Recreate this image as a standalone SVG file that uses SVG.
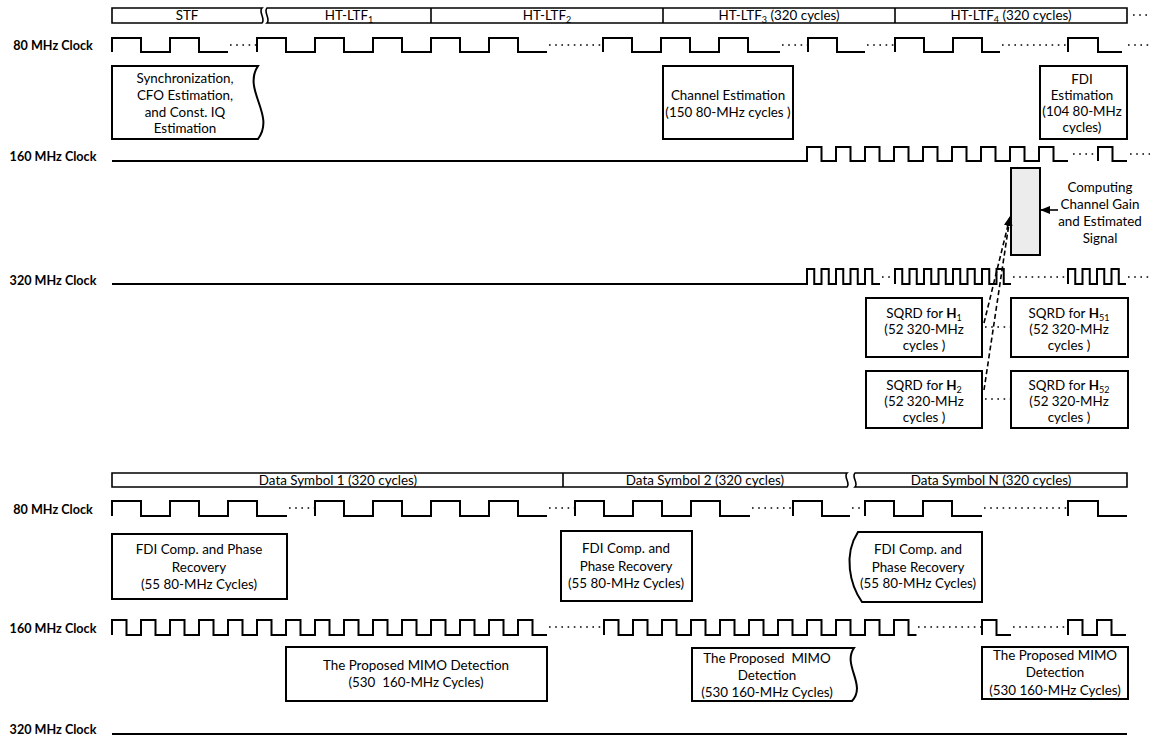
<svg xmlns="http://www.w3.org/2000/svg" width="1150" height="737" viewBox="0 0 1150 737">
<style>
.t{font-family:Lato,"Liberation Sans",sans-serif;font-size:13.4px;text-anchor:middle;fill:#000}
.lbl{font-family:Lato,"Liberation Sans",sans-serif;font-size:12.6px;font-weight:bold;text-anchor:middle;fill:#000}
.clk{fill:none;stroke:#000;stroke-width:2;stroke-linejoin:miter}
.box{fill:#fff;stroke:#000;stroke-width:2}
.bar{fill:#fff;stroke:#000;stroke-width:1.6}
.dots{fill:none;stroke:#000;stroke-width:1.6;stroke-dasharray:1.6 4.6}
.dash{fill:none;stroke:#000;stroke-width:1.6;stroke-dasharray:5 3}
.sub{font-size:9px}
</style>
<defs>
<marker id="ah" markerWidth="10" markerHeight="8" refX="9" refY="4" orient="auto" markerUnits="userSpaceOnUse">
<path d="M0,0 L10,4 L0,8 Z" fill="#000"/>
</marker>
</defs>

<g id="labels">
<text class="lbl" x="53" y="50">80 MHz Clock</text>
<text class="lbl" x="53" y="161">160 MHz Clock</text>
<text class="lbl" x="53" y="285">320 MHz Clock</text>
<text class="lbl" x="53" y="514">80 MHz Clock</text>
<text class="lbl" x="53" y="633">160 MHz Clock</text>
<text class="lbl" x="53" y="734">320 MHz Clock</text>
</g>

<g id="top-bar">
<path class="bar" d="M112,8 H262 C258,12 266,19 262,23 H112 Z"/>
<path class="bar" d="M267,8 H1127 V23 H267 C271,19 263,12 267,8 Z"/>
<line class="bar" x1="431" y1="8" x2="431" y2="23"/>
<line class="bar" x1="663" y1="8" x2="663" y2="23"/>
<line class="bar" x1="895" y1="8" x2="895" y2="23"/>
<text class="t" x="187" y="20">STF</text>
<text class="t" x="349" y="20">HT-LTF<tspan class="sub" dy="3">1</tspan></text>
<text class="t" x="547" y="20">HT-LTF<tspan class="sub" dy="3">2</tspan></text>
<text class="t" x="779" y="20">HT-LTF<tspan class="sub" dy="3">3</tspan><tspan dy="-3"> (320 cycles)</tspan></text>
<text class="t" x="1011" y="20">HT-LTF<tspan class="sub" dy="3">4</tspan><tspan dy="-3"> (320 cycles)</tspan></text>
<line class="dots" x1="1133" y1="15" x2="1150" y2="15"/>
</g>

<g id="clock-80-top">
<path class="clk" d="M112,52 v-14h29v14h29v-14h29v14h29"/>
<path class="clk" d="M257,52 v-14h29v14h29v-14h29v14h29v-14h29v14h29v-14h29v14h29v-14h29v14h29"/>
<path class="clk" d="M603,52 v-14h29v14h29v-14h29v14h29v-14h29v14h29h3"/>
<path class="clk" d="M808,52 v-14h29v14h28"/>
<path class="clk" d="M895,52 v-14h29v14h29v-14h29v14h18"/>
<path class="clk" d="M1068,52 v-14h30v14h24"/>
<path class="dots" d="M230,45 H256 M549,45 H602 M782,45 H807 M867,45 H894 M1002,45 H1067 M1128,45 H1150"/>
</g>

<g id="clock-160-top">
<path class="clk" d="M112,161 H807 v-14h14.5v14h14.5v-14h14.5v14h14.5v-14h14.5v14h14.5v-14h14.5v14h14.5v-14h14.5v14h14.5v-14h14.5v14h14.5v-14h14.5v14h14.5v-14h14.5v14h14.5v-14h14.5v14h14.5"/>
<path class="clk" d="M1098,161 v-14h14.5v14h14.5"/>
<path class="dots" d="M1073,154 H1096 M1130,154 H1150"/>
</g>

<g id="clock-320-top">
<path class="clk" d="M112,284 H807 v-15h7.25v15h7.25v-15h7.25v15h7.25v-15h7.25v15h7.25v-15h7.25v15h7.25v-15h7.25v15h7.75"/>
<path class="clk" d="M895,284 v-15h7.25v15h7.25v-15h7.25v15h7.25v-15h7.25v15h7.25v-15h7.25v15h7.25v-15h7.25v15h7.25v-15h7.25v15h7.25v-15h7.25v15h7.25v-15h7.25v15h7.25"/>
<path class="clk" d="M1068,284 v-15h7.25v15h7.25v-15h7.25v15h7.25v-15h7.25v15h7.25v-15h7.25v15h7.25"/>
<path class="dots" d="M882,277 H894 M1013,277 H1067 M1128,277 H1150"/>
</g>

<g id="node-sync">
<path class="box" d="M112,66 H258 C242,90 276,115 258,139 H112 Z"/>
<text class="t" x="185" y="83">Synchronization,</text>
<text class="t" x="185" y="100">CFO Estimation,</text>
<text class="t" x="185" y="117">and Const. IQ</text>
<text class="t" x="185" y="133">Estimation</text>
</g>

<g id="node-channel-est">
<rect class="box" x="663" y="66" width="130" height="73"/>
<text class="t" x="728" y="100">Channel Estimation</text>
<text class="t" x="728" y="117">(150 80-MHz cycles )</text>
</g>

<g id="node-fdi-est">
<rect class="box" x="1040" y="66" width="87" height="73"/>
<text class="t" x="1082" y="84">FDI</text>
<text class="t" x="1082" y="100">Estimation</text>
<text class="t" x="1082" y="116">(104 80-MHz</text>
<text class="t" x="1082" y="132">cycles)</text>
</g>

<g id="node-gain">
<rect x="1011" y="168" width="29" height="87" fill="#ececec" stroke="#000" stroke-width="2"/>
</g>

<g id="label-gain">
<text class="t" x="1100" y="192">Computing</text>
<text class="t" x="1100" y="209">Channel Gain</text>
<text class="t" x="1100" y="226">and Estimated</text>
<text class="t" x="1100" y="243">Signal</text>
</g>

<g id="node-sqrd-h1">
<rect class="box" x="866" y="298" width="116" height="59"/>
<text class="t" x="924" y="318">SQRD for <tspan font-weight="bold">H</tspan><tspan class="sub" dy="3">1</tspan></text>
<text class="t" x="924" y="334">(52 320-MHz</text>
<text class="t" x="924" y="350">cycles )</text>
</g>
<g id="node-sqrd-h2">
<rect class="box" x="866" y="371" width="116" height="57"/>
<text class="t" x="924" y="390">SQRD for <tspan font-weight="bold">H</tspan><tspan class="sub" dy="3">2</tspan></text>
<text class="t" x="924" y="406">(52 320-MHz</text>
<text class="t" x="924" y="422">cycles )</text>
</g>
<g id="node-sqrd-h51">
<rect class="box" x="1011" y="298" width="117" height="59"/>
<text class="t" x="1069" y="318">SQRD for <tspan font-weight="bold">H</tspan><tspan class="sub" dy="3">51</tspan></text>
<text class="t" x="1069" y="334">(52 320-MHz</text>
<text class="t" x="1069" y="350">cycles )</text>
</g>
<g id="node-sqrd-h52">
<rect class="box" x="1011" y="371" width="117" height="57"/>
<text class="t" x="1069" y="390">SQRD for <tspan font-weight="bold">H</tspan><tspan class="sub" dy="3">52</tspan></text>
<text class="t" x="1069" y="406">(52 320-MHz</text>
<text class="t" x="1069" y="422">cycles )</text>
</g>

<g id="bottom-bar">
<path class="bar" d="M112,473 H847 C843,477 851,483 847,487 H112 Z"/>
<path class="bar" d="M855,473 H1127 V487 H855 C859,483 851,477 855,473 Z"/>
<line class="bar" x1="563" y1="473" x2="563" y2="487"/>
<text class="t" x="338" y="485">Data Symbol 1 (320 cycles)</text>
<text class="t" x="705" y="485">Data Symbol 2 (320 cycles)</text>
<text class="t" x="991" y="485">Data Symbol N (320 cycles)</text>
</g>

<g id="clock-80-bottom">
<path class="clk" d="M112,516 v-15h29v15h29v-15h29v15h29v-15h29v15h30"/>
<path class="clk" d="M315,516 v-15h29v15h29v-15h29v15h29v-15h29v15h29v-15h29v15h29"/>
<path class="clk" d="M575,516 v-15h29v15h29v-15h29v15h29v-15h29v15h30"/>
<path class="clk" d="M793,516 v-15h29v15h28"/>
<path class="clk" d="M865,516 v-15h29v15h29v-15h29v15h30"/>
<path class="clk" d="M1068,516 v-15h30v15h29"/>
<path class="dots" d="M289,508 H314 M549,508 H574 M752,508 H792 M852,508 H864 M984,508 H1067"/>
</g>

<g id="clock-160-bottom">
<path class="clk" d="M112,635 v-15h14.5v15h14.5v-15h14.5v15h14.5v-15h14.5v15h14.5v-15h14.5v15h14.5v-15h14.5v15h14.5v-15h14.5v15h14.5v-15h14.5v15h14.5v-15h14.5v15h14.5v-15h14.5v15h14.5v-15h14.5v15h14.5v-15h14.5v15h14.5v-15h14.5v15h14.5v-15h14.5v15h14.5v-15h14.5v15h14.5v-15h14.5v15h14.5"/>
<path class="clk" d="M604,635 v-15h14.5v15h14.5v-15h14.5v15h14.5v-15h14.5v15h14.5v-15h14.5v15h14.5v-15h14.5v15h14.5v-15h14.5v15h14.5v-15h14.5v15h14.5v-15h14.5v15h14.5v-15h14.5v15h14.5v-15h14.5v15h14.5v-15h14.5v15h8"/>
<path class="clk" d="M982,635 v-15h14.5v15h14.5"/>
<path class="clk" d="M1068,635 v-15h14.5v15h14.5v-15h14.5v15h14.5"/>
<path class="dots" d="M549,627 H603 M918,627 H981 M1013,627 H1067"/>
</g>

<g id="clock-320-bottom">
<path class="clk" d="M112,734 H1127"/>
</g>

<g id="node-fdi-comp-1">
<rect class="box" x="112" y="534" width="175" height="65"/>
<text class="t" x="199" y="554">FDI Comp. and Phase</text>
<text class="t" x="199" y="572">Recovery</text>
<text class="t" x="199" y="589">(55 80-MHz Cycles)</text>
</g>
<g id="node-fdi-comp-2">
<rect class="box" x="561" y="531" width="131" height="70"/>
<text class="t" x="626" y="553">FDI Comp. and</text>
<text class="t" x="626" y="571">Phase Recovery</text>
<text class="t" x="626" y="588">(55 80-MHz Cycles)</text>
</g>
<g id="node-fdi-comp-n">
<path class="box" d="M982,532 V602 H862 C850,585 843,555 858,532 Z"/>
<text class="t" x="918" y="554">FDI Comp. and</text>
<text class="t" x="918" y="572">Phase Recovery</text>
<text class="t" x="918" y="588">(55 80-MHz Cycles)</text>
</g>

<g id="node-mimo-1">
<rect class="box" x="286" y="647" width="261" height="54"/>
<text class="t" x="416" y="670">The Proposed MIMO Detection</text>
<text class="t" x="416" y="687" style="white-space:pre">(530  160-MHz Cycles)</text>
</g>
<g id="node-mimo-2">
<path class="box" d="M692,648 H854 C842,665 867,685 852,701 H692 Z"/>
<text class="t" x="767" y="663" style="white-space:pre">The Proposed  MIMO</text>
<text class="t" x="767" y="680">Detection</text>
<text class="t" x="767" y="697">(530 160-MHz Cycles)</text>
</g>
<g id="node-mimo-n">
<rect class="box" x="982" y="647" width="146" height="52"/>
<text class="t" x="1055" y="660">The Proposed MIMO</text>
<text class="t" x="1055" y="677">Detection</text>
<text class="t" x="1055" y="695">(530 160-MHz Cycles)</text>
</g>

<g id="connectors">
<line x1="1058" y1="210" x2="1041" y2="210" stroke="#000" stroke-width="1.6" marker-end="url(#ah)"/>
<line class="dash" x1="984" y1="323" x2="1010" y2="217" marker-end="url(#ah)"/>
<line class="dash" x1="984" y1="390" x2="1010" y2="217" marker-end="url(#ah)"/>
<path class="dots" d="M985,327 H1010 M985,399 H1010"/>
</g>
</svg>
